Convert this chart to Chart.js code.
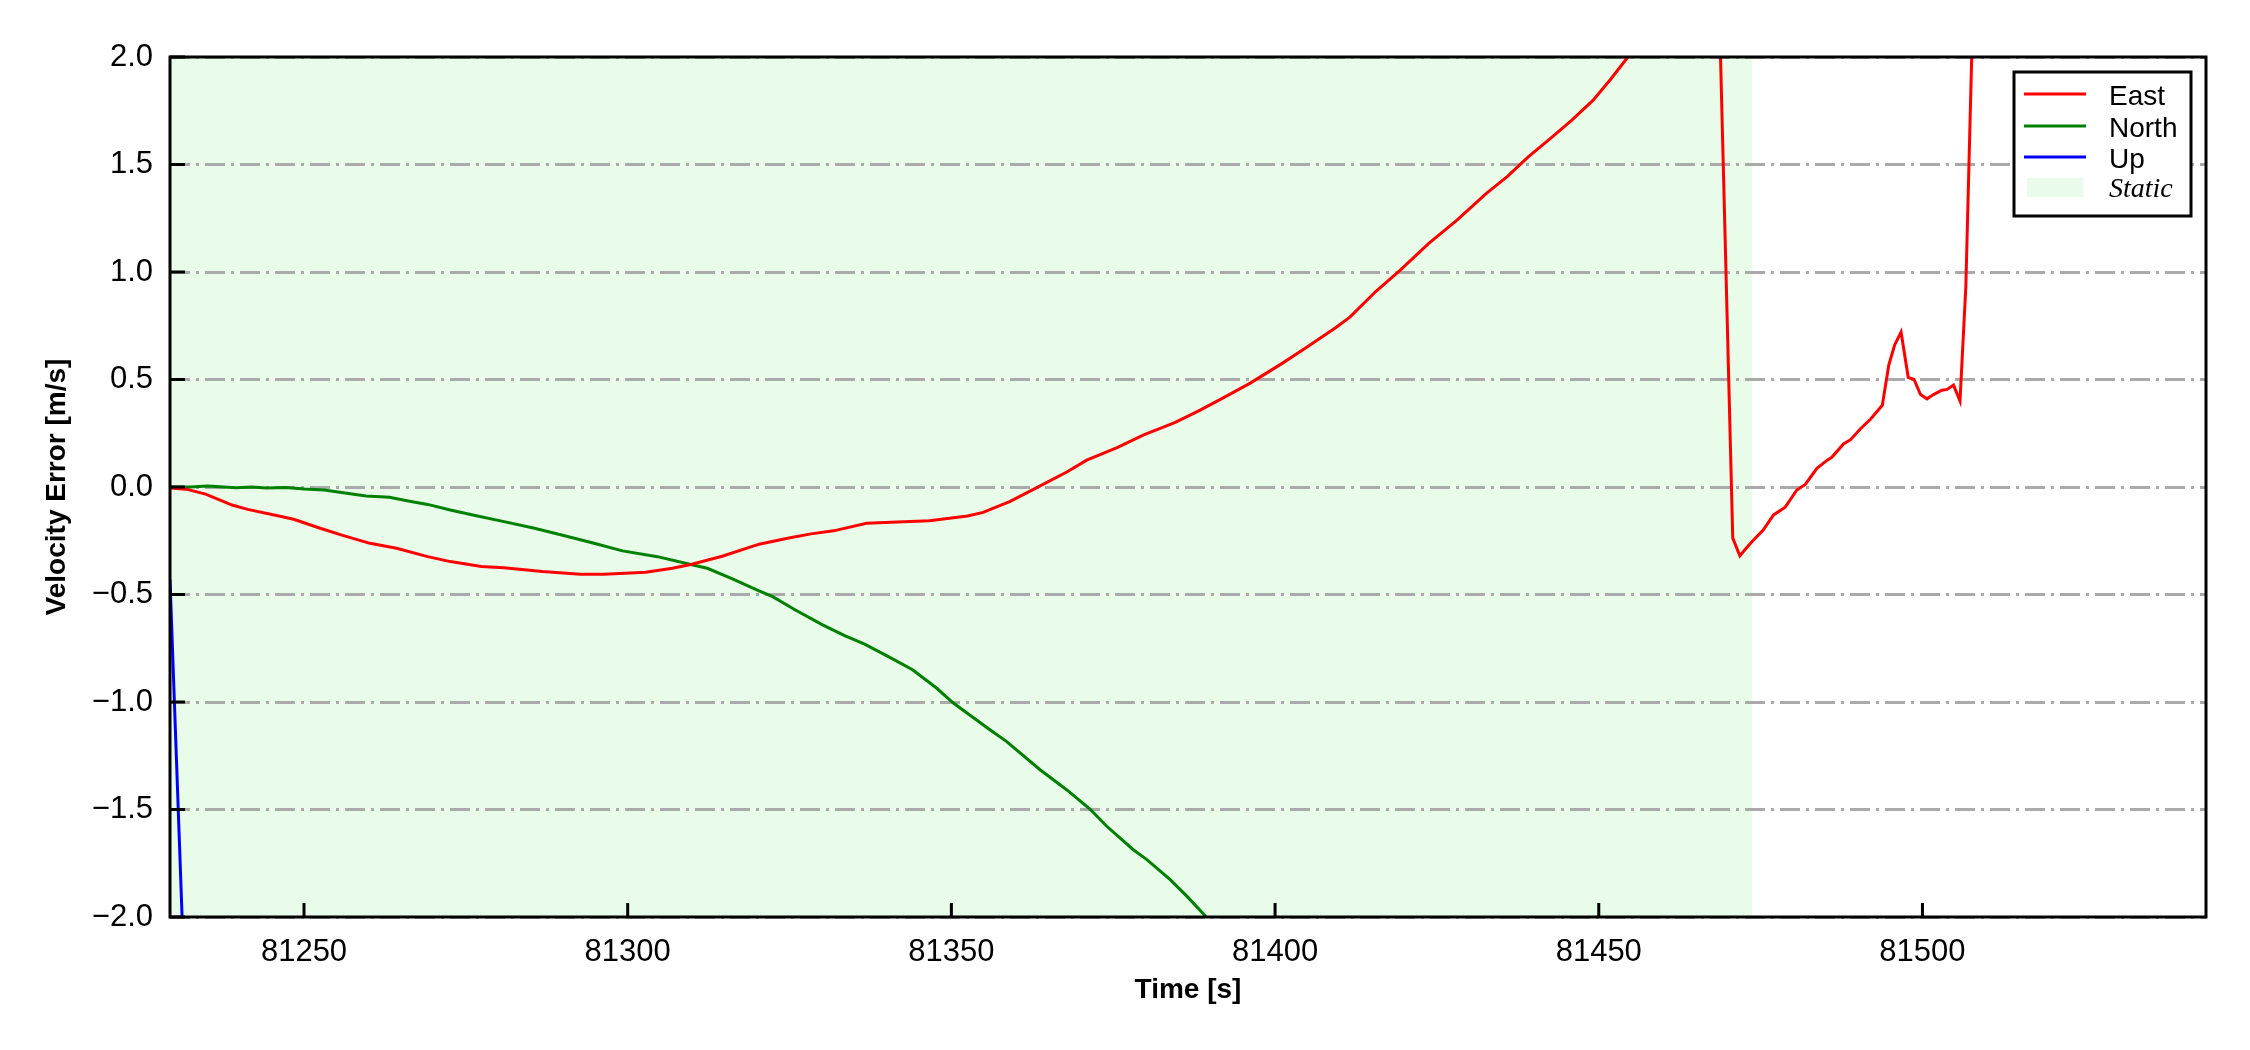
<!DOCTYPE html>
<html>
<head>
<meta charset="utf-8">
<script src="https://cdn.jsdelivr.net/npm/chart.js@4.4.0/dist/chart.umd.min.js"></script>
<style>
  html, body { margin: 0; padding: 0; background: #fff; }
  #wrap { width: 2250px; height: 1050px; position: relative; }
</style>
</head>
<body>
<div id="wrap"><canvas id="chartVel" width="2250" height="1050"></canvas></div>
<script>
// Velocity error series
const eastT = [81229.3, 81231.8, 81234.8, 81238.9, 81241.3, 81245.4, 81248.4, 81252.5, 81256.1, 81260.2,
  81264.3, 81269.1, 81272.6, 81277.4, 81280.9, 81286.8, 81292.7, 81296.3, 81302.8, 81306.9,
  81309.9, 81314.6, 81320.3, 81324.7, 81328.3, 81331.8, 81336.9, 81340.7, 81346.6, 81352.5,
  81354.9, 81359.0, 81363.2, 81367.9, 81370.9, 81375.6, 81379.7, 81384.5, 81388.2, 81391.7,
  81396.1, 81401.1, 81405.0, 81409.4, 81411.6, 81415.5, 81419.3, 81423.7, 81428.1, 81432.6,
  81435.9, 81439.2, 81442.5, 81445.8, 81449.1, 81451.9, 81454.5, 81458.0, 81463.0, 81468.3,
  81470.7, 81471.8, 81472.9, 81473.8, 81475.4, 81477.0, 81478.8, 81480.6, 81481.9, 81483.7,
  81485.3, 81486.0, 81487.8, 81488.9, 81490.4, 81492.0, 81493.8, 81494.8, 81495.7, 81496.7,
  81497.8, 81498.7, 81499.7, 81500.7, 81501.7, 81503.0, 81503.8, 81504.8, 81505.8, 81506.7,
  81507.6, 81508.2];
const eastV = [-0.005, -0.01, -0.033, -0.084, -0.104, -0.130, -0.150, -0.192, -0.226, -0.262,
  -0.285, -0.324, -0.347, -0.370, -0.376, -0.393, -0.406, -0.406, -0.397, -0.378,
  -0.359, -0.322, -0.266, -0.238, -0.218, -0.204, -0.169, -0.164, -0.157, -0.135,
  -0.118, -0.068, -0.003, 0.071, 0.125, 0.183, 0.242, 0.299, 0.354, 0.41,
  0.482, 0.575, 0.652, 0.742, 0.791, 0.908, 1.008, 1.132, 1.241, 1.365,
  1.445, 1.538, 1.620, 1.705, 1.798, 1.899, 2.0, 2.45, 2.9, 2.6,
  -0.238, -0.32, -0.28, -0.25, -0.20, -0.13, -0.094, -0.014, 0.012, 0.087,
  0.125, 0.138, 0.20, 0.22, 0.27, 0.316, 0.38, 0.567, 0.66, 0.72,
  0.51, 0.50, 0.43, 0.41, 0.43, 0.45, 0.454, 0.474, 0.40, 0.93,
  1.99, 2.7];

const northT = [81229.3, 81232.4, 81235.1, 81239.5, 81241.9, 81244.2, 81247.2, 81250.1, 81253.1, 81256.6,
  81259.6, 81263.2, 81266.1, 81269.1, 81272.6, 81276.8, 81280.9, 81285.6, 81289.8, 81294.5,
  81299.2, 81304.6, 81309.9, 81312.3, 81316.0, 81320.2, 81322.4, 81325.9, 81330.1, 81333.6,
  81336.6, 81340.7, 81344.0, 81347.7, 81350.3, 81356.0, 81358.5, 81363.7, 81367.8, 81371.4,
  81374.0, 81378.1, 81380.2, 81383.8, 81386.4, 81389.2, 81390.5];
const northV = [0.0, 0.0, 0.005, -0.003, 0.0, -0.005, -0.002, -0.009, -0.014, -0.029,
  -0.042, -0.048, -0.065, -0.081, -0.107, -0.135, -0.161, -0.192, -0.223, -0.259,
  -0.297, -0.324, -0.362, -0.378, -0.425, -0.482, -0.51, -0.572, -0.641, -0.692,
  -0.731, -0.796, -0.85, -0.935, -1.005, -1.13, -1.183, -1.315, -1.408, -1.498,
  -1.578, -1.687, -1.733, -1.826, -1.904, -1.994, -2.05];

const upT = [81229.3, 81231.17, 81232.0];
const upV = [-0.43, -2.0, -2.65];

const staticSpan = [81229.3, 81473.7];
const xRange = [81229.3, 81543.8];
const yRange = [-2, 2];
const xTicks = [81250, 81300, 81350, 81400, 81450, 81500];
const yTicks = [-2.0, -1.5, -1.0, -0.5, 0.0, 0.5, 1.0, 1.5, 2.0];

const sans = "'Liberation Sans', Arial, sans-serif";
const serif = "'Liberation Serif', 'Times New Roman', serif";

function pts(ts, vs) {
  return ts.map((t, i) => ({ x: t, y: vs[i] }));
}

// light green "static" band, under the grid
const staticBand = {
  id: 'staticBand',
  beforeDraw(chart) {
    const { ctx, chartArea, scales } = chart;
    const x0 = scales.x.getPixelForValue(staticSpan[0]);
    const x1 = scales.x.getPixelForValue(staticSpan[1]);
    ctx.save();
    ctx.fillStyle = '#e9fce9';
    ctx.fillRect(x0, chartArea.top, x1 - x0, chartArea.bottom - chartArea.top);
    ctx.restore();
  }
};

// frame on all sides plus inward tick marks
const frameTicks = {
  id: 'frameTicks',
  afterDraw(chart) {
    const { ctx, chartArea: a, scales } = chart;
    ctx.save();
    ctx.strokeStyle = '#000';
    ctx.lineWidth = 3;
    ctx.beginPath();
    xTicks.forEach(v => {
      const px = scales.x.getPixelForValue(v);
      ctx.moveTo(px, a.bottom);
      ctx.lineTo(px, a.bottom - 14);
    });
    yTicks.forEach(v => {
      const py = scales.y.getPixelForValue(v);
      ctx.moveTo(a.left, py);
      ctx.lineTo(a.left + 15, py);
    });
    ctx.stroke();
    ctx.strokeRect(a.left, a.top, a.right - a.left, a.bottom - a.top);
    ctx.restore();
  }
};

// legend box inside the plot, top right
const legendBox = {
  id: 'legendBox',
  afterDraw(chart) {
    const ctx = chart.ctx;
    const bx = 2014, by = 72, bw = 177, bh = 144;
    ctx.save();
    ctx.fillStyle = '#fff';
    ctx.fillRect(bx, by, bw, bh);
    ctx.strokeStyle = '#000';
    ctx.lineWidth = 3;
    ctx.strokeRect(bx, by, bw, bh);

    const rows = [94, 126, 157];
    chart.data.datasets.forEach((ds, i) => {
      ctx.strokeStyle = ds.borderColor;
      ctx.lineWidth = 3;
      ctx.beginPath();
      ctx.moveTo(2024, rows[i]);
      ctx.lineTo(2086, rows[i]);
      ctx.stroke();
      ctx.fillStyle = '#000';
      ctx.font = "28px " + sans;
      ctx.textBaseline = 'alphabetic';
      ctx.fillText(ds.label, 2109, rows[i] + 11);
    });
    ctx.fillStyle = '#e9fce9';
    ctx.fillRect(2027, 178, 56, 19);
    ctx.fillStyle = '#000';
    ctx.font = "italic 28px " + serif;
    ctx.fillText('Static', 2109, 197);
    ctx.restore();
  }
};

const ctx = document.getElementById('chartVel');

new Chart(ctx, {
  type: 'line',
  data: {
    datasets: [
      { label: 'East', data: pts(eastT, eastV), borderColor: '#ff0000' },
      { label: 'North', data: pts(northT, northV), borderColor: '#008000' },
      { label: 'Up', data: pts(upT, upV), borderColor: '#0000ff' }
    ]
  },
  options: {
    responsive: false,
    animation: false,
    devicePixelRatio: 1,
    parsing: false,
    layout: { padding: { top: 57, right: 44, left: 0, bottom: 0 } },
    elements: {
      line: { borderWidth: 3, tension: 0, fill: false },
      point: { radius: 0, hoverRadius: 0 }
    },
    datasets: { line: { clip: 0 } },
    plugins: { legend: { display: false }, tooltip: { enabled: false } },
    scales: {
      x: {
        type: 'linear',
        min: xRange[0],
        max: xRange[1],
        afterBuildTicks: s => { s.ticks = xTicks.map(v => ({ value: v })); },
        afterFit: s => { s.height = 133; },
        grid: { display: false },
        border: { display: false },
        ticks: {
          autoSkip: false,
          maxRotation: 0,
          padding: 9,
          color: '#000',
          font: { family: sans, size: 31 },
          callback: v => String(v)
        },
        title: {
          display: true,
          text: 'Time [s]',
          color: '#000',
          font: { family: sans, size: 28, weight: 'bold' },
          padding: { top: 0, bottom: 43 }
        }
      },
      y: {
        type: 'linear',
        min: yRange[0],
        max: yRange[1],
        afterBuildTicks: s => { s.ticks = yTicks.map(v => ({ value: v })); },
        afterFit: s => { s.width = 170; },
        grid: { color: '#aaaaaa', lineWidth: 3, drawTicks: false },
        border: { display: false, dash: [20, 6, 3, 6] },
        ticks: {
          padding: 17,
          color: '#000',
          font: { family: sans, size: 31 },
          callback: v => v.toFixed(1).replace('-', '\u2212')
        },
        title: {
          display: true,
          text: 'Velocity Error [m/s]',
          color: '#000',
          font: { family: sans, size: 28, weight: 'bold' },
          padding: { top: 40, bottom: 0 }
        }
      }
    }
  },
  plugins: [staticBand, frameTicks, legendBox]
});
</script>
</body>
</html>
